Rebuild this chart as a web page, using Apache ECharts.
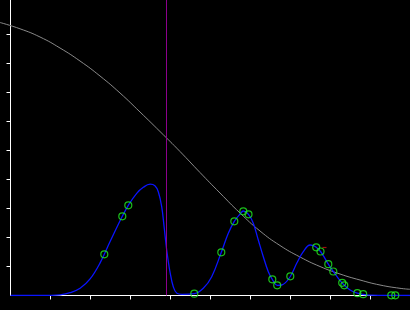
<!DOCTYPE html>
<html>
<head>
<meta charset="utf-8">
<script src="https://cdn.jsdelivr.net/npm/echarts@6/dist/echarts.min.js"></script>
<style>
html,body{margin:0;padding:0;background:#000;}
#c{width:410px;height:310px;}
</style>
</head>
<body>
<div id="c"></div>
<script>
// Density curve (x, y)
const densityX = [0, 0.99, 1.24, 1.49, 1.74, 1.99, 2.24, 2.49, 2.795, 2.945, 3.155, 3.32, 3.49, 3.61, 3.695, 3.78, 3.84, 3.905, 3.99, 4.07, 4.16, 4.29, 4.595, 4.82, 5.03, 5.27, 5.445, 5.595, 5.74, 5.82, 5.95, 6.07, 6.195, 6.32, 6.445, 6.545, 6.668, 6.78, 6.995, 7.155, 7.32, 7.49, 7.57, 7.643, 7.75, 7.86, 7.945, 8.07, 8.195, 8.345, 8.49, 8.67, 8.818, 8.99, 9.99];
const densityY = [0, 0.007, 0.024, 0.097, 0.248, 0.570, 1.125, 1.860, 2.731, 3.110, 3.524, 3.731, 3.838, 3.786, 3.579, 3.062, 2.372, 1.569, 0.793, 0.303, 0.076, 0.041, 0.062, 0.248, 0.648, 1.490, 2.145, 2.559, 2.810, 2.914, 2.800, 2.490, 1.914, 1.338, 0.821, 0.559, 0.352, 0.362, 0.655, 1.110, 1.510, 1.741, 1.717, 1.662, 1.517, 1.283, 1.079, 0.828, 0.593, 0.352, 0.190, 0.079, 0.041, 0.010, 0];

// Observed points (green circles)
const pointsX = [2.345, 2.795, 2.945, 4.595, 5.27, 5.595, 5.82, 5.95, 6.545, 6.668, 6.995, 7.643, 7.75, 7.945, 8.07, 8.293, 8.345, 8.67, 8.818, 9.52, 9.62];
const pointsY = [1.421, 2.731, 3.110, 0.062, 1.490, 2.559, 2.903, 2.800, 0.559, 0.352, 0.662, 1.662, 1.517, 1.079, 0.828, 0.438, 0.352, 0.079, 0.045, 0.007, 0.007];

// Gray decreasing curve (starts left of the y axis)
const grayX = [-0.2625, 0.2375, 0.7375, 1.2375, 1.7375, 2.2375, 2.7375, 3.2375, 3.7375, 4.2375, 4.7375, 5.2375, 5.7375, 6.2375, 6.7375, 7.2375, 7.7375, 8.2375, 8.7375, 9.2375, 9.7375, 9.9875];
const grayY = [9.414, 9.197, 8.914, 8.534, 8.086, 7.569, 6.983, 6.328, 5.655, 4.966, 4.241, 3.534, 2.845, 2.224, 1.724, 1.328, 1.000, 0.741, 0.534, 0.362, 0.248, 0.214];

// Vertical cutoff line position
const cutoff = 3.895;

// Small red marker
const redX = [7.85];
const redY = [1.655];

// Tick positions
const xTicks = [1, 2, 3, 4, 5, 6, 7, 8, 9];
const yTicks = [1, 2, 3, 4, 5, 6, 7, 8, 9];

const zip = (a, b) => a.map((v, i) => [v, b[i]]);
const yMax = 295.5 / 29;

const chart = echarts.init(document.getElementById('c'), null, {renderer: 'canvas'});
chart.setOption({
  backgroundColor: '#000',
  animation: false,
  grid: [
    {left: 0, right: 0, top: 0, bottom: 14.5, containLabel: false},
    {left: 10.5, right: 0, top: 0, bottom: 14.5, containLabel: false}
  ],
  xAxis: [
    {
      gridIndex: 0, type: 'value', min: -0.2625, max: 9.9875, show: false
    },
    {
      gridIndex: 1, type: 'value', min: 0, max: 9.9875,
      splitLine: {show: false},
      axisLine: {lineStyle: {color: '#fff', width: 1}, onZero: false},
      axisTick: {show: true, length: 4, lineStyle: {color: '#fff'}, customValues: xTicks},
      axisLabel: {show: false}
    }
  ],
  yAxis: [
    {
      gridIndex: 0, type: 'value', min: 0, max: yMax, show: false
    },
    {
      gridIndex: 1, type: 'value', min: 0, max: yMax,
      splitLine: {show: false},
      axisLine: {lineStyle: {color: '#fff', width: 1}, onZero: false},
      axisTick: {show: true, length: 4, lineStyle: {color: '#fff'}, customValues: yTicks},
      axisLabel: {show: false}
    }
  ],
  series: [
    {
      type: 'line', xAxisIndex: 0, yAxisIndex: 0, data: zip(grayX, grayY), smooth: 0.5,
      symbol: 'none', lineStyle: {color: '#8a8a8a', width: 1}, z: 2
    },
    {
      type: 'line', xAxisIndex: 1, yAxisIndex: 1, data: zip(densityX, densityY), smooth: 0.4,
      symbol: 'none', lineStyle: {color: '#0a14ff', width: 1.3}, z: 3,
      markLine: {
        silent: true, symbol: 'none', label: {show: false},
        lineStyle: {color: '#8c008c', width: 1, type: 'solid'},
        data: [{xAxis: cutoff}]
      }
    },
    {
      type: 'scatter', xAxisIndex: 1, yAxisIndex: 1, data: zip(pointsX, pointsY), symbol: 'circle', symbolSize: 7,
      itemStyle: {color: 'rgba(0,0,0,0)', borderColor: '#22ee22', borderWidth: 1.2}, z: 4
    },
    {
      type: 'scatter', xAxisIndex: 1, yAxisIndex: 1, data: zip(redX, redY), symbol: 'rect', symbolSize: [4, 1.2],
      itemStyle: {color: '#cc1111'}, z: 4
    }
  ]
});
</script>
</body>
</html>
